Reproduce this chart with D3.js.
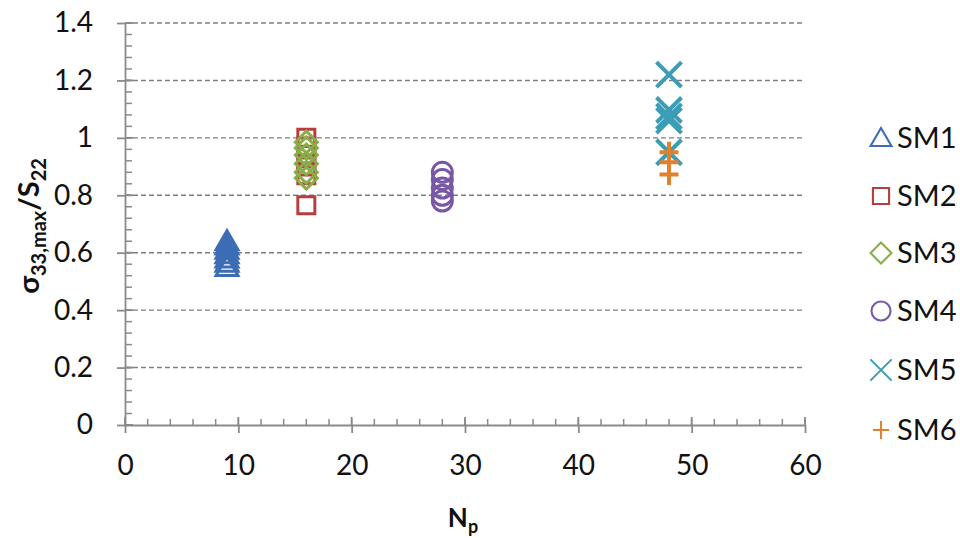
<!DOCTYPE html>
<html><head><meta charset="utf-8">
<script src="https://cdn.jsdelivr.net/npm/d3@7"></script>
<style>body{margin:0;background:#fff}svg{display:block}text{font-family:Lato,"Liberation Sans",sans-serif;fill:#111}</style>
</head><body><svg id="c" width="960" height="538"></svg>
<script>
const xTicks = [0, 10, 20, 30, 40, 50, 60];
const yTicks = [0, 0.2, 0.4, 0.6, 0.8, 1, 1.2, 1.4];
const seriesNames = ["SM1", "SM2", "SM3", "SM4", "SM5", "SM6"];
const sm1 = [[9,0.55],[9,0.565],[9,0.58],[9,0.595],[9,0.61],[9,0.625],[9,0.64]];
const sm2 = [[16,1.0],[16,0.97],[16,0.94],[16,0.90],[16,0.87],[16,0.765]];
const sm3 = [[16,0.985],[16,0.965],[16,0.94],[16,0.91],[16,0.88],[16,0.86]];
const sm4 = [[28,0.88],[28,0.855],[28,0.825],[28,0.80],[28,0.78]];
const sm5 = [[48,1.22],[48,1.097],[48,1.075],[48,1.06],[48,0.95]];
const sm6 = [[48,0.95],[48,0.915],[48,0.872]];
const seriesData = [sm1, sm2, sm3, sm4, sm5, sm6];
const colors = ["#3d6db4", "#b63f3c", "#89ad48", "#7858a6", "#3b9db6", "#e3802e"];

const svg = d3.select("#c");
const x = d3.scaleLinear().domain([0, 60]).range([125, 805]);
const y = d3.scaleLinear().domain([0, 1.4]).range([425, 23]);
const axisCol = "#8a8a8a";

// gridlines
svg.append("g").selectAll("line").data(yTicks.filter(d => d > 0)).join("line")
  .attr("x1", x(0)).attr("x2", x(60)).attr("y1", d => y(d)).attr("y2", d => y(d))
  .attr("stroke", "#7f7f7f").attr("stroke-width", 1.4).attr("stroke-dasharray", "5,3");

// minor ticks
const xMinor = d3.range(0, 60.01, 2);
const yMinor = d3.range(0, 1.4001, 0.04);
svg.append("g").selectAll("line").data(xMinor).join("line")
  .attr("x1", d => x(d)).attr("x2", d => x(d)).attr("y1", y(0)).attr("y2", y(0) - 6)
  .attr("stroke", axisCol).attr("stroke-width", 1.5);
svg.append("g").selectAll("line").data(yMinor).join("line")
  .attr("x1", x(0)).attr("x2", x(0) + 7).attr("y1", d => y(d)).attr("y2", d => y(d))
  .attr("stroke", axisCol).attr("stroke-width", 1.5);

// axes
const xAxis = svg.append("g").attr("transform", `translate(0,${y(0)})`)
  .call(d3.axisBottom(x).tickValues(xTicks).tickSizeInner(8).tickSizeOuter(0).tickPadding(22).tickFormat(d3.format("d")));
const yAxis = svg.append("g").attr("transform", `translate(${x(0)},0)`)
  .call(d3.axisLeft(y).tickValues(yTicks).tickSizeInner(8).tickSizeOuter(0).tickPadding(24).tickFormat(d => d3.format("")(+d.toFixed(1))));
[xAxis, yAxis].forEach(a => {
  a.select(".domain").attr("stroke", axisCol).attr("stroke-width", 1.8);
  a.selectAll(".tick line").attr("stroke", axisCol).attr("stroke-width", 1.8);
  a.selectAll(".tick text").style("font-size", "28px").style("font-family", "Lato, sans-serif").attr("fill", "#111");
});
// major ticks crossing the axis
svg.append("g").selectAll("line").data(xTicks).join("line")
  .attr("x1", d => x(d)).attr("x2", d => x(d)).attr("y1", y(0)).attr("y2", y(0) - 8)
  .attr("stroke", axisCol).attr("stroke-width", 1.8);
svg.append("g").selectAll("line").data(yTicks).join("line")
  .attr("x1", x(0)).attr("x2", x(0) + 8).attr("y1", d => y(d)).attr("y2", d => y(d))
  .attr("stroke", axisCol).attr("stroke-width", 1.8);

// marker shapes
const shapes = [
  "M0,-10.5L11,8.5L-11,8.5Z",
  "M-8.5,-8.5H8.5V8.5H-8.5Z",
  "M0,-11L11,0L0,11L-11,0Z",
  d3.symbol(d3.symbolCircle, Math.PI * 10 * 10)(),
  "M-12.5,-12.5L12.5,12.5M-12.5,12.5L12.5,-12.5",
  "M-9.5,0H9.5M0,-10.5V10.5"
];
const widths = [3, 3, 3, 3, 4, 4];

seriesData.forEach((data, i) => {
  svg.append("g").selectAll("path").data(data).join("path")
    .attr("d", shapes[i])
    .attr("transform", d => `translate(${x(d[0])},${y(d[1])})`)
    .attr("fill", "none").attr("stroke", colors[i]).attr("stroke-width", widths[i]);
});

// legend
const legY = [138, 196, 253, 311, 370, 430];
const leg = svg.append("g");
seriesNames.forEach((n, i) => {
  leg.append("path").attr("d", shapes[i])
    .attr("transform", `translate(881,${legY[i]})` + (i >= 4 ? " scale(0.85)" : " scale(0.95)"))
    .attr("fill", "none").attr("stroke", colors[i]).attr("stroke-width", i >= 4 ? 2.4 : 2.2);
  leg.append("text").attr("x", 897).attr("y", legY[i]).attr("dy", "0.36em")
    .style("font-size", "29px").text(n);
});

// axis titles
const xt = svg.append("text").attr("x", 463).attr("y", 527).attr("text-anchor", "middle")
  .style("font-size", "26px").style("font-weight", "bold");
xt.append("tspan").text("N");
xt.append("tspan").attr("dy", 6).style("font-size", "18px").text("p");

const yt = svg.append("text").attr("transform", "translate(39,226) rotate(-90)").attr("text-anchor", "middle")
  .style("font-size", "29px").style("font-weight", "bold");
yt.append("tspan").text("σ");
yt.append("tspan").attr("dy", 7).style("font-size", "20px").text("33,max");
yt.append("tspan").attr("dy", -7).text("/S");
yt.append("tspan").attr("dy", 7).style("font-size", "20px").text("22");
</script></body></html>
